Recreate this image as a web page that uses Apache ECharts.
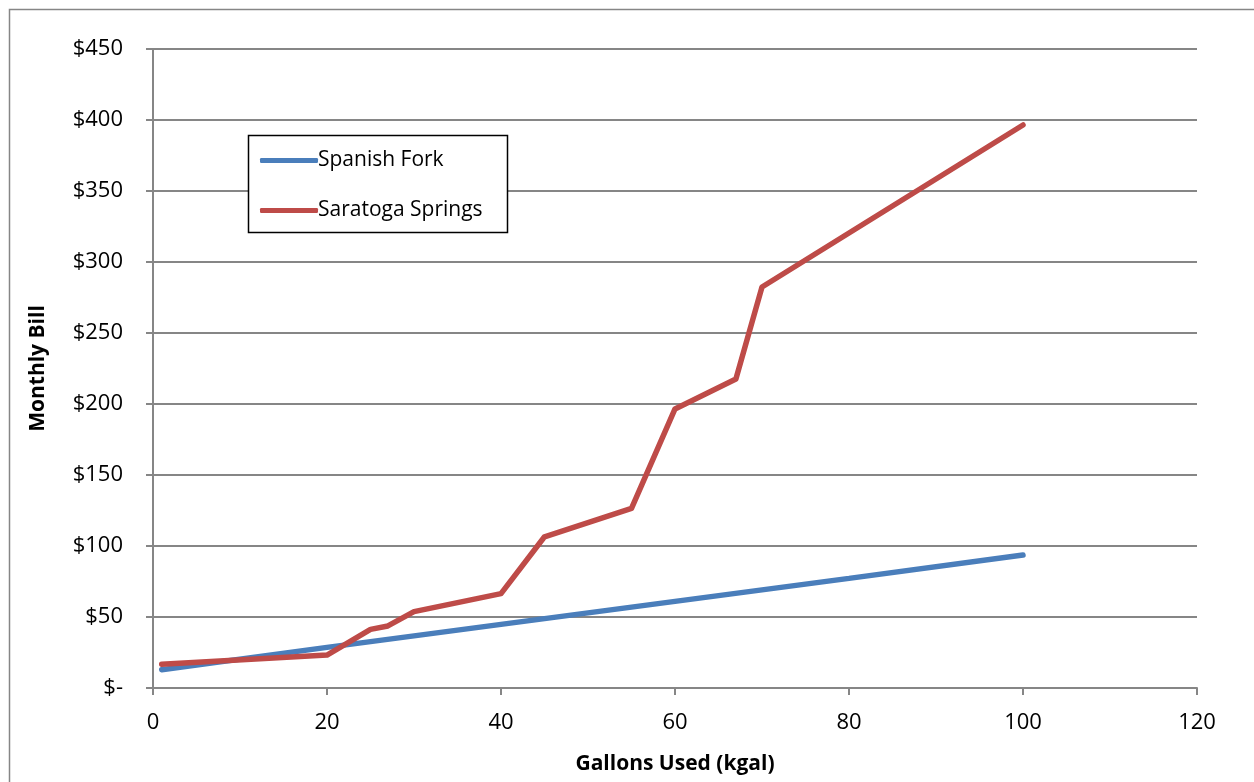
<!DOCTYPE html>
<html>
<head>
<meta charset="utf-8">
<script src="https://cdn.jsdelivr.net/npm/echarts@6/dist/echarts.min.js"></script>
<style>
html,body{margin:0;padding:0;background:#fff;}
#chart{width:1254px;height:782px;}
</style>
</head>
<body>
<div id="chart"></div>
<script>
const seriesNames = ['Spanish Fork', 'Saratoga Springs'];
const spanishForkX = [1, 20, 40, 60, 80, 100];
const spanishForkY = [12.9, 28.6, 44.8, 61.0, 77.2, 93.6];
const saratogaX = [1, 20, 25, 27, 30, 40, 45, 55, 60, 67, 70, 100];
const saratogaY = [16.8, 23.2, 41.3, 43.7, 53.8, 66.5, 106.5, 126.5, 196.5, 217.6, 282.4, 396.5];
const xTitle = 'Gallons Used (kgal)';
const yTitle = 'Monthly Bill';

const FONT = '"Open Sans", sans-serif';
const grey = '#868686';
const chart = echarts.init(document.getElementById('chart'));
chart.setOption({
  animation: false,
  backgroundColor: '#fff',
  textStyle: {fontFamily: FONT},
  grid: {left: 153, right: 57, top: 49, bottom: 94, containLabel: false},
  graphic: [
    {type: 'rect', shape: {x: 9.5, y: 9.5, width: 1400, height: 900}, style: {fill: 'none', stroke: grey, lineWidth: 1.5}, silent: true},
    {type: 'rect', shape: {x: 248.5, y: 135.5, width: 259, height: 97}, style: {fill: '#fff', stroke: '#000', lineWidth: 1.5}, z: 5, silent: true}
  ],
  legend: {
    orient: 'vertical', left: 255, top: 141,
    icon: 'roundRect',
    itemWidth: 58, itemHeight: 5, itemGap: 21,
    textStyle: {fontFamily: FONT, fontSize: 21, color: '#000', padding: [0, 0, 0, -5], lineHeight: 29},
    data: seriesNames, z: 10
  },
  xAxis: {
    type: 'value', min: 0, max: 120, interval: 20,
    name: xTitle, nameLocation: 'middle', nameGap: 66,
    nameTextStyle: {fontFamily: FONT, fontSize: 21, fontWeight: 'bold', color: '#000'},
    axisLine: {show: true, lineStyle: {color: grey, width: 2}},
    axisTick: {show: true, length: 7, lineStyle: {color: grey, width: 2}},
    axisLabel: {fontFamily: FONT, fontSize: 22, color: '#000', margin: 24},
    splitLine: {show: false}
  },
  yAxis: {
    type: 'value', min: 0, max: 450, interval: 50,
    name: yTitle, nameLocation: 'middle', nameGap: 92, nameRotate: 90,
    nameTextStyle: {fontFamily: FONT, fontSize: 21, fontWeight: 'bold', color: '#000', padding: [0, 0, 12, 0]},
    axisLine: {show: true, lineStyle: {color: grey, width: 2}},
    axisTick: {show: true, length: 7, lineStyle: {color: grey, width: 2}},
    axisLabel: {fontFamily: FONT, fontSize: 22, color: '#000', margin: 30,
      formatter: v => v === 0 ? '$-' : '$' + v},
    splitLine: {show: true, lineStyle: {color: grey, width: 2}}
  },
  series: [
    {name: seriesNames[0], type: 'line', data: spanishForkX.map((x, i) => [x, spanishForkY[i]]),
     symbol: 'none', lineStyle: {color: '#4a7ebb', width: 5.5, cap: 'round'}, itemStyle: {color: '#4a7ebb'}},
    {name: seriesNames[1], type: 'line', data: saratogaX.map((x, i) => [x, saratogaY[i]]),
     symbol: 'none', lineStyle: {color: '#be4b48', width: 5.5, cap: 'round', join: 'round'}, itemStyle: {color: '#be4b48'}}
  ]
});
</script>
</body>
</html>
